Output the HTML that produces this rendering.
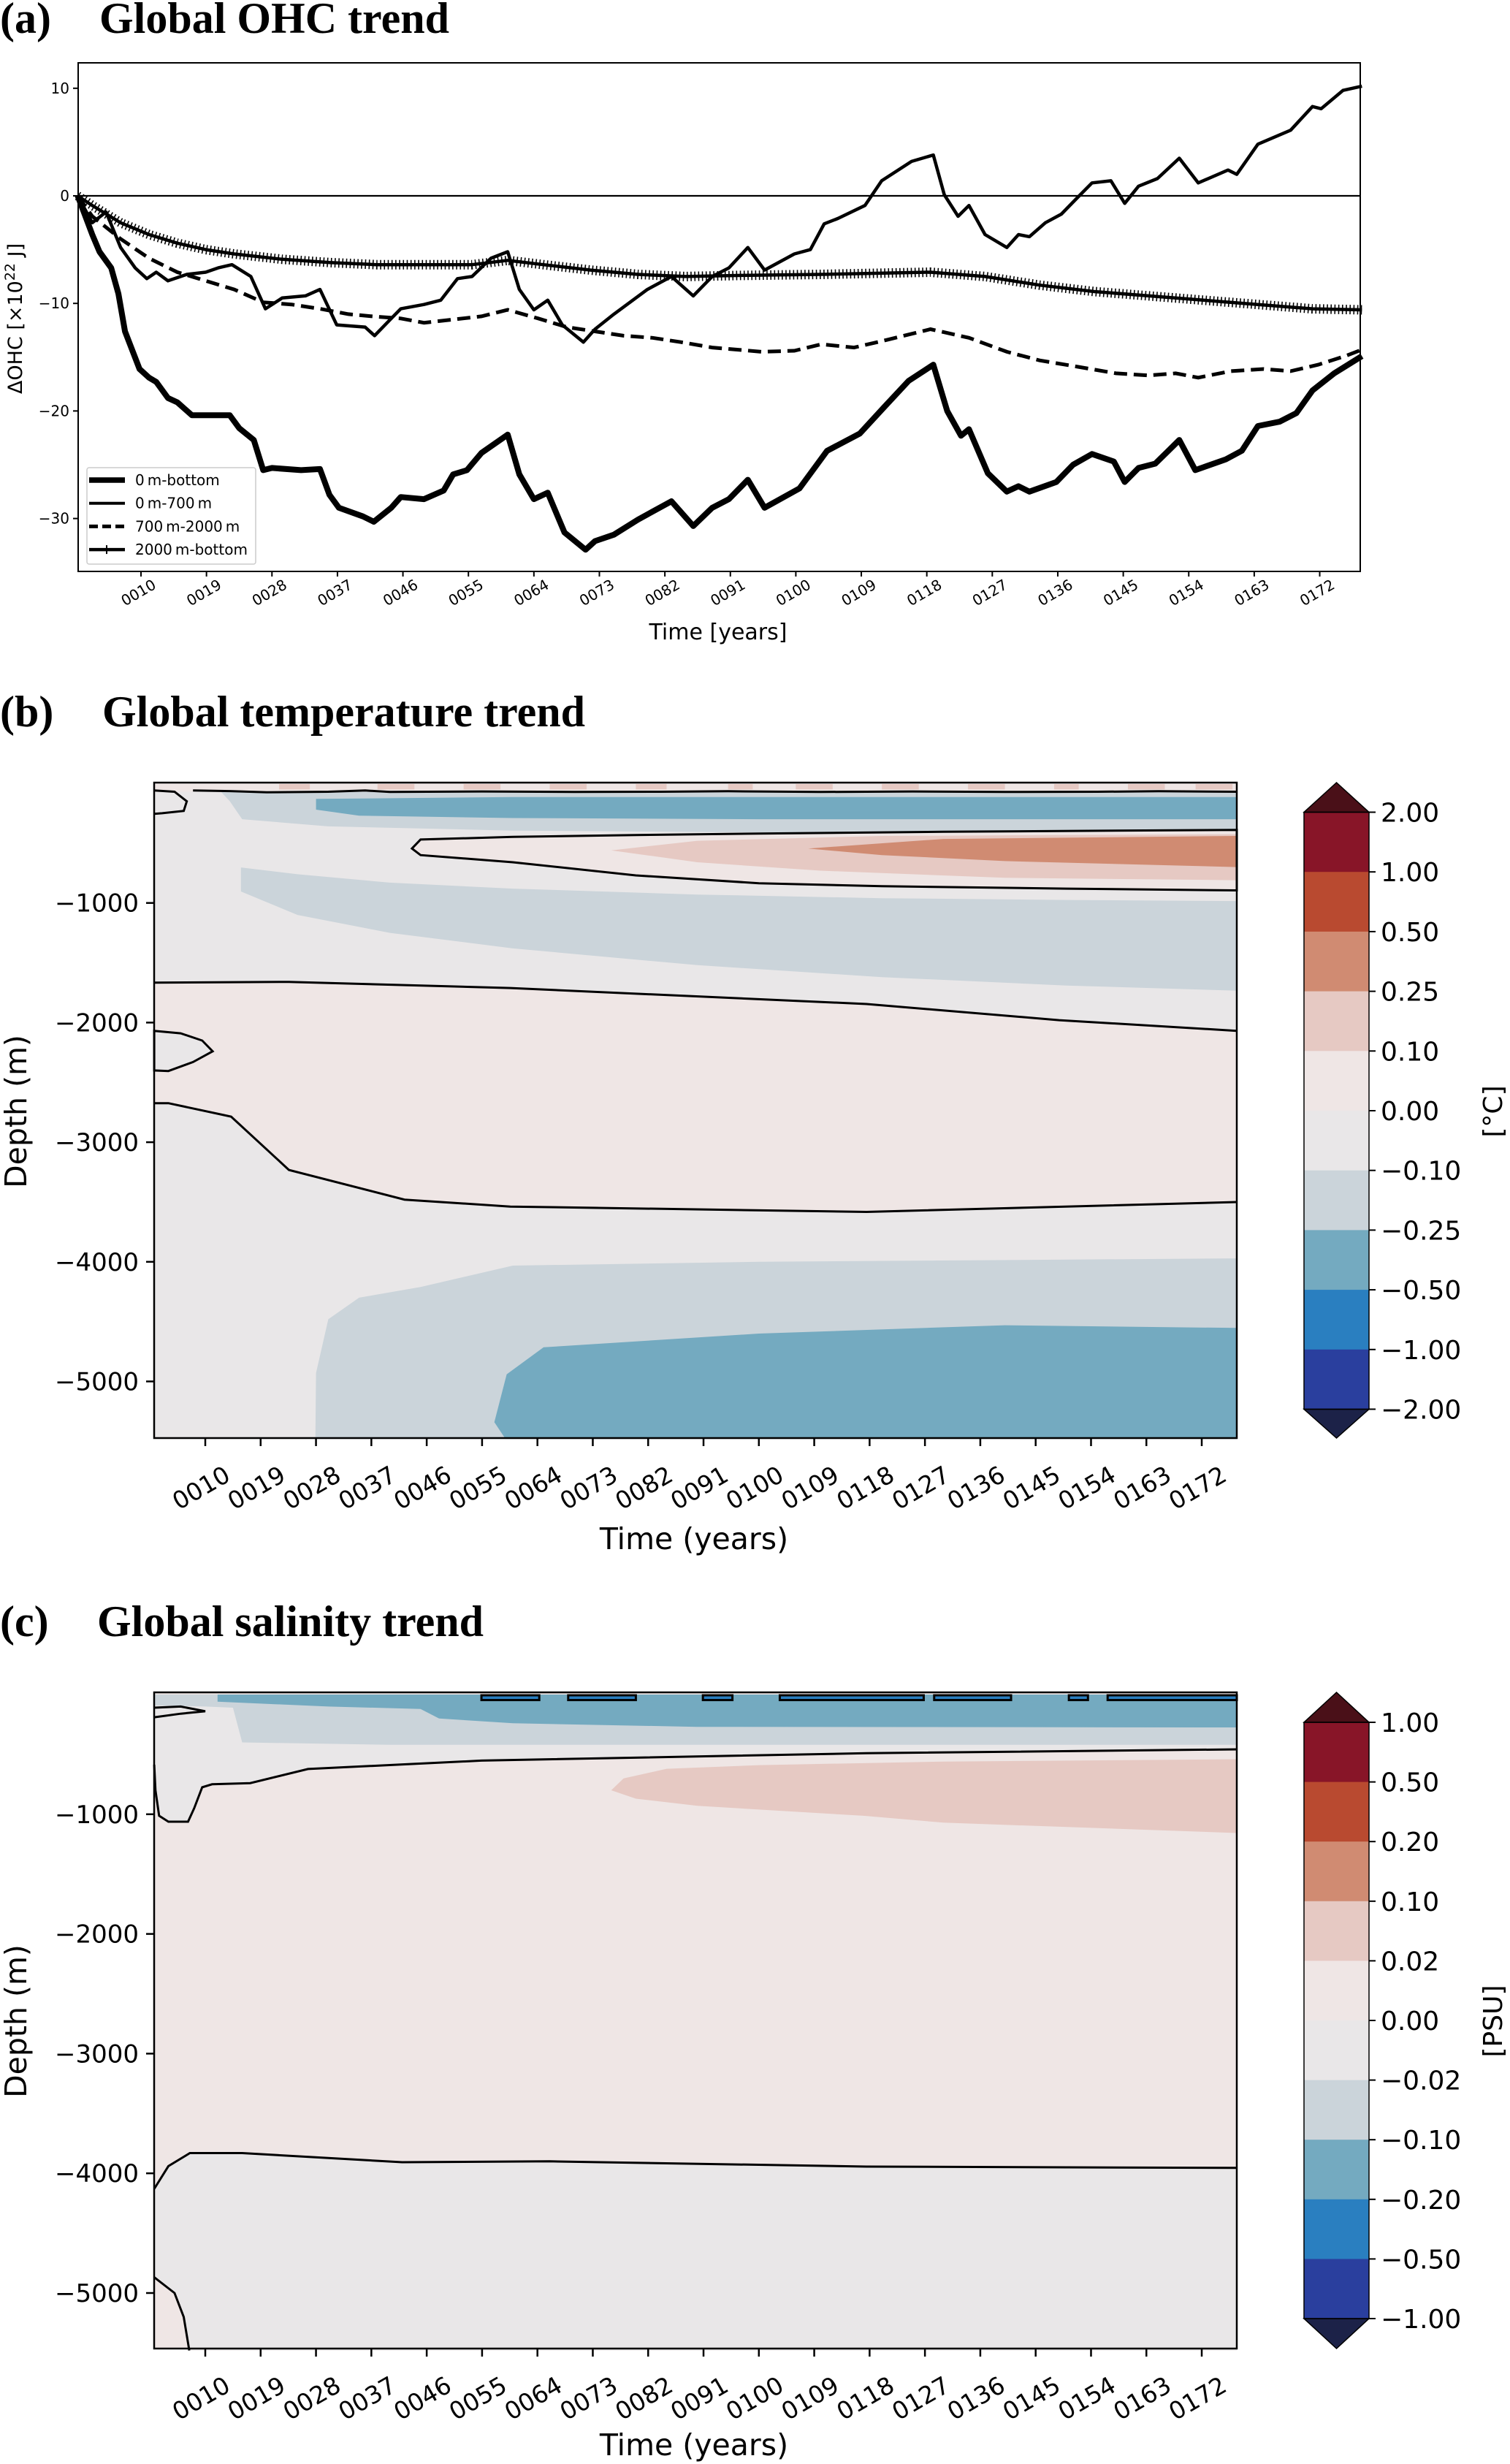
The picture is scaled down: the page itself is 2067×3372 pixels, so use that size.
<!DOCTYPE html>
<html><head><meta charset="utf-8">
<style>
html,body{margin:0;padding:0;background:#fff;}
svg{display:block;}
text{font-family:"DejaVu Sans","Liberation Sans",sans-serif;}
.ttl{font-family:"Liberation Serif",serif;font-weight:bold;font-size:60px;}
</style></head>
<body>
<svg id="fig" width="2067" height="3372" viewBox="0 0 2067 3372" xmlns="http://www.w3.org/2000/svg">
<text class="ttl" x="0" y="45">(a)<tspan x="136">Global OHC trend</tspan></text>
<text class="ttl" x="0" y="994">(b)<tspan x="140">Global temperature trend</tspan></text>
<text class="ttl" x="0" y="2239">(c)<tspan x="133">Global salinity trend</tspan></text>
<g id="pa"></g>
<g id="pb"></g>
<g id="pc"></g>
</svg>
<script>
// ---------- Panel (a) data ----------
const yrsBottom = [1.3,3.3,4.3,5.9,6.9,7.8,9.8,11.1,12.1,13.7,15,17,19.6,22.2,23.5,25.5,26.8,28,32,34.6,35.9,37.2,40.5,42,44.4,45.7,48.9,51.6,52.9,54.8,56.8,60.4,62,64,65.9,68.2,71.1,72.4,75,78.3,82.9,85.9,88.5,90.8,93.4,95.7,100.5,104.3,108.8,112.2,115.5,118.9,120.8,122.7,123.8,126.4,129,130.6,132.1,135.8,138.1,140.7,143.7,145.2,147.1,149.4,151.2,152.7,154.9,159.1,161.3,163.5,166.5,168.8,171,174,177.8];
const valBottom = [0,-3.6,-5.2,-6.7,-9.1,-12.6,-16.1,-16.9,-17.3,-18.8,-19.2,-20.4,-20.4,-20.4,-21.6,-22.7,-25.5,-25.3,-25.5,-25.4,-27.8,-29,-29.8,-30.3,-29,-28,-28.2,-27.4,-25.9,-25.5,-23.9,-22.2,-25.9,-28.2,-27.6,-31.3,-32.9,-32.1,-31.5,-30.1,-28.4,-30.7,-29,-28.2,-26.4,-29,-27.2,-23.7,-22.1,-19.6,-17.2,-15.7,-20,-22.3,-21.7,-25.8,-27.5,-27,-27.5,-26.6,-25,-24,-24.7,-26.6,-25.3,-24.9,-23.7,-22.7,-25.5,-24.5,-23.7,-21.4,-21,-20.2,-18.1,-16.5,-14.9];
const yrs700 = [1.3,3.3,5.2,7.2,9.2,10.8,12.1,13.7,16.3,18.9,20.6,22.5,25.1,27.1,29.4,32.6,34.6,36.9,40.8,42.1,44.4,45.7,48.9,51.2,53.5,55.5,58.1,60.4,62,64,65.9,67.9,70.8,72.4,75,79.6,82.9,85.9,88.5,90.8,93.4,95.7,99.8,102,103.9,105.8,109.5,111.8,115.9,118.9,120.4,122.3,123.8,126,129,130.6,132.1,134.3,136.5,138.8,140.7,143.3,145.2,147.1,149.7,152.7,155.3,159.4,160.6,163.5,168,171,172.2,175.2,177.8];
const val700 = [0,-2.5,-1.5,-4.8,-6.7,-7.7,-7.1,-7.9,-7.3,-7.1,-6.7,-6.4,-7.5,-10.5,-9.5,-9.3,-8.7,-12,-12.2,-13,-11.4,-10.5,-10.1,-9.7,-7.7,-7.5,-5.8,-5.2,-8.7,-10.6,-9.7,-12,-13.6,-12.4,-11,-8.7,-7.5,-9.3,-7.5,-6.7,-4.8,-6.9,-5.4,-5,-2.6,-2.1,-0.9,1.4,3.2,3.8,0.1,-1.9,-0.9,-3.6,-4.8,-3.6,-3.8,-2.5,-1.7,-0.1,1.2,1.4,-0.7,0.9,1.6,3.5,1.2,2.4,2,4.8,6.1,8.3,8.1,9.8,10.2];
const yrs2000 = [1.3,3.3,7.2,11.1,15,18.9,22.8,26.8,30.7,34.6,38.5,41.8,45.7,48.9,52.9,56.8,60.4,64.6,68.5,72.4,76.3,80.3,84.2,88.5,95.3,99.8,103.5,108,112.5,118.5,123.8,129,133.5,138.8,144,148.5,152.2,155.3,159.8,164.3,168,171.8,175.5,177.8];
const val2000 = [0,-1.9,-4,-5.8,-7.1,-7.9,-8.7,-9.9,-10.1,-10.5,-11,-11.2,-11.4,-11.8,-11.5,-11.2,-10.6,-11.4,-12.2,-12.6,-13,-13.2,-13.6,-14.1,-14.5,-14.4,-13.8,-14.1,-13.4,-12.4,-13.2,-14.5,-15.3,-15.9,-16.5,-16.7,-16.5,-16.9,-16.3,-16.1,-16.3,-15.7,-14.9,-14.3];
const yrsDeep = [1.3,3.3,7.2,11.1,15,18.9,22.8,29.4,35.9,42.4,48.9,55.5,60.4,65.3,71.8,78.3,84.8,92.5,103.5,118.5,126,133.5,141,148.5,156,163.5,171,177.8];
const valDeep = [0,-0.9,-2.5,-3.6,-4.4,-5,-5.4,-5.9,-6.2,-6.4,-6.4,-6.4,-6,-6.4,-6.9,-7.3,-7.5,-7.4,-7.3,-7.1,-7.5,-8.3,-8.9,-9.3,-9.7,-10.1,-10.5,-10.6];
const tickYears = [10,19,28,37,46,55,64,73,82,91,100,109,118,127,136,145,154,163,172];
const ohcTicks = [10,0,-10,-20,-30];
const tempLevels = ["2.00","1.00","0.50","0.25","0.10","0.00","\u22120.10","\u22120.25","\u22120.50","\u22121.00","\u22122.00"];
const saltLevels = ["1.00","0.50","0.20","0.10","0.02","0.00","\u22120.02","\u22120.10","\u22120.20","\u22120.50","\u22121.00"];
const depthTicks = [-1000,-2000,-3000,-4000,-5000];
const binColors = ["#881528","#b94a30","#d08b72","#e6c9c3","#efe6e5","#e9e7e8","#cbd4da","#74aac0","#2a7fc0","#2a3f9e"];

const NS="http://www.w3.org/2000/svg";
function mk(parent,tag,attrs){const e=document.createElementNS(NS,tag);for(const k in attrs)e.setAttribute(k,attrs[k]);parent.appendChild(e);return e;}
function txt(parent,s,attrs){const e=mk(parent,'text',attrs);e.textContent=s;return e;}

// ---------- Panel (a) ----------
const pa=document.getElementById('pa');
const aL=107,aR=1862,aT=86,aB=782;
const ax=y=>193+(y-10)*9.96;
const ay=v=>268-v*14.72;
function polyPts(ys,vs,fx,fy){return ys.map((y,i)=>fx(y).toFixed(1)+','+fy(vs[i]).toFixed(1)).join(' ');}
let zl=mk(pa,'line',{x1:aL,x2:aR,y1:ay(0),y2:ay(0),stroke:'#000','stroke-width':2.2});

let l;
l=mk(pa,'polyline',{points:polyPts(yrsDeep,valDeep,ax,ay),fill:'none',stroke:'#000','stroke-width':4.5,'stroke-linejoin':'round'});

l=mk(pa,'polyline',{points:polyPts(yrsDeep,valDeep,ax,ay),fill:'none',stroke:'#000','stroke-width':13,'stroke-dasharray':'1.6 3.6'});

l=mk(pa,'polyline',{points:polyPts(yrs2000,val2000,ax,ay),fill:'none',stroke:'#000','stroke-width':5,'stroke-dasharray':'18 9'});

l=mk(pa,'polyline',{points:polyPts(yrs700,val700,ax,ay),fill:'none',stroke:'#000','stroke-width':4.5,'stroke-linejoin':'round'});

l=mk(pa,'polyline',{points:polyPts(yrsBottom,valBottom,ax,ay),fill:'none',stroke:'#000','stroke-width':8,'stroke-linejoin':'round'});

let fr=mk(pa,'rect',{x:aL,y:aT,width:aR-aL,height:aB-aT,fill:'none',stroke:'#000','stroke-width':2});

ohcTicks.forEach(v=>{
  mk(pa,'line',{x1:aL-7,x2:aL,y1:ay(v),y2:ay(v),stroke:'#000','stroke-width':2});
  const t=txt(pa,v<0?'\u2212'+Math.abs(v):String(v),{x:aL-12,y:ay(v)+7,'font-size':20,'text-anchor':'end'});
  
});
tickYears.forEach(y=>{
  mk(pa,'line',{x1:ax(y),x2:ax(y),y1:aB,y2:aB+7,stroke:'#000','stroke-width':2});
  const t=txt(pa,String(y).padStart(4,'0'),{x:0,y:0,'font-size':20,'text-anchor':'middle',transform:`translate(${ax(y)},${aB+35}) rotate(-30)`});
  
});
let t;
t=txt(pa,'Time [years]',{x:983,y:875,'font-size':30,'text-anchor':'middle'});

t=mk(pa,'text',{x:0,y:0,'font-size':27,'text-anchor':'middle',transform:'translate(30,436) rotate(-90)'});
t.innerHTML='\u0394OHC [\u00d710<tspan dy="-10" font-size="19">22</tspan><tspan dy="10"> J]</tspan>';

// legend
const lg=mk(pa,'g',{});

mk(lg,'rect',{x:119,y:640,width:231,height:132,fill:'#fff',stroke:'#ccc','stroke-width':1.5,rx:3});
const legLabels=['0\u2009m-bottom','0\u2009m-700\u2009m','700\u2009m-2000\u2009m','2000\u2009m-bottom'];
const legW=[7.5,4,5,4.5];
legLabels.forEach((s,i)=>{
  const yy=657+i*31.7;
  const e=mk(lg,'g',{});
  
  const a={x1:122,x2:171,y1:yy,y2:yy,stroke:'#000','stroke-width':legW[i]};
  if(i==2)a['stroke-dasharray']='12 6';
  mk(e,'line',a);
  if(i==3)mk(e,'line',{x1:146,x2:146,y1:yy-6,y2:yy+6,stroke:'#000','stroke-width':2});
  txt(e,s,{x:185,y:yy+7,'font-size':20});
});

// ---------- Contour panels ----------
function P(pts,fx,fy){return 'M'+pts.map(p=>fx(p[0]).toFixed(1)+','+fy(p[1]).toFixed(1)).join(' L')+' Z';}
function L(pts,fx,fy){return 'M'+pts.map(p=>fx(p[0]).toFixed(1)+','+fy(p[1]).toFixed(1)).join(' L');}
const bx=y=>281+(y-10)*8.42;
const Y0=1.7,Y1=177.7,DMAX=5480;

// Temperature regions (year, depth)
const tPinkMid=[[Y0,1666],[23.6,1660],[59.6,1711],[117.5,1845],[148.8,1980],[Y1,2069],[Y1,3500],[117.5,3583],[59.6,3538],[42.4,3480],[23.6,3232],[14.2,2786],[4.0,2674],[Y0,2674]];
const tBlob=[[Y0,2069],[6,2090],[9.5,2150],[11.2,2240],[8,2330],[4,2405],[Y0,2400]];
const tGrayUp=[[15.8,703],[25,760],[40,830],[60,880],[90,930],[120,960],[150,975],[Y1,984],[Y1,1733],[150,1690],[120,1620],[90,1520],[60,1380],[40,1250],[25,1100],[15.8,904]];
const tPinkUp=[[43.6,545],[45,470],[60,448],[80,432],[100,420],[130,405],[Y1,389],[Y1,895],[150,880],[120,860],[100,835],[80,770],[60,660],[45,600]];
const tLred=[[76,560],[90,480],[120,440],[Y1,425],[Y1,810],[140,790],[110,730],[90,660]];
const tOrange=[[108,545],[130,465],[Y1,440],[Y1,700],[140,650],[120,600]];
const tGrayTop=[[12,40],[Y1,40],[Y1,420],[100,410],[60,395],[30,360],[16,300],[14,150]];
const tBlueTop=[[28,130],[60,115],[Y1,115],[Y1,300],[100,300],[60,290],[35,270],[28,220]];
const tSurf=[[Y0,0],[Y1,0],[Y1,70],[Y0,70]];
const tGrayBot=[[27.9,DMAX],[28,4930],[30,4480],[35,4300],[45,4210],[60,4032],[100,4000],[Y1,3971],[Y1,DMAX]];
const tBlueBot=[[58.8,DMAX],[57,5340],[59,4940],[65,4715],[100,4600],[140,4530],[Y1,4553],[Y1,DMAX]];
const tSurfContour=[[8,60],[14,65],[20,75],[30,70],[36,60],[40,72],[55,68],[70,72],[84,70],[95,66],[110,72],[125,68],[140,72],[155,70],[165,66],[Y1,70]];
const tCornerContour=[[Y0,60],[5,70],[7,150],[6.5,230],[3,250],[Y0,255]];
const redPatchYears=[[22,27],[38,44],[52,58],[66,72],[80,85],[95,99],[106,112],[120,126],[134,140],[148,152],[160,166],[171,177]];

function contourPanel(g,top,bot,fy,bg,regions,lines){
  mk(g,'rect',{x:211,y:top,width:1482,height:bot-top,fill:bg});
  regions.forEach(r=>{const p=mk(g,'path',{d:P(r[0],bx,fy),fill:r[1]});});
  lines.forEach(r=>{const p=mk(g,'path',{d:r[1]?P(r[0],bx,fy):L(r[0],bx,fy),fill:'none',stroke:'#000','stroke-width':3});});
}
function axesDeco(g,top,bot,fy,cbTop,cbBot,levels,unit,unitY,depthY,timeY,cbName){
  const f=mk(g,'rect',{x:211,y:top,width:1482,height:bot-top,fill:'none',stroke:'#000','stroke-width':2.5});
  
  depthTicks.forEach(d=>{
    const yy=fy(-d);
    mk(g,'line',{x1:200,x2:211,y1:yy,y2:yy,stroke:'#000','stroke-width':2.5});
    const t=txt(g,'\u2212'+Math.abs(d),{x:190,y:yy+12,'font-size':34,'text-anchor':'end'});
    
  });
  tickYears.forEach(y=>{
    mk(g,'line',{x1:bx(y),x2:bx(y),y1:bot,y2:bot+11,stroke:'#000','stroke-width':2.5});
    const t=txt(g,String(y).padStart(4,'0'),{x:0,y:0,'font-size':33,'text-anchor':'middle',transform:`translate(${bx(y)},${bot+78}) rotate(-30)`});
    
  });
  let t=txt(g,'Time (years)',{x:950,y:timeY,'font-size':41,'text-anchor':'middle'});
  
  t=txt(g,'Depth (m)',{x:0,y:0,'font-size':41,'text-anchor':'middle',transform:`translate(36,${depthY}) rotate(-90)`});
  
  const cb=mk(g,'g',{});
  
  const cx0=1785,cx1=1874,h=(cbBot-cbTop)/10;
  binColors.forEach((c,i)=>mk(cb,'rect',{x:cx0,y:cbTop+i*h,width:cx1-cx0,height:h+0.5,fill:c}));
  mk(cb,'polygon',{points:`${cx0},${cbTop} ${cx1},${cbTop} ${(cx0+cx1)/2},${top}`,fill:'#4a1018',stroke:'#000','stroke-width':1.5});
  mk(cb,'polygon',{points:`${cx0},${cbBot} ${cx1},${cbBot} ${(cx0+cx1)/2},${bot}`,fill:'#1c2248',stroke:'#000','stroke-width':1.5});
  mk(cb,'rect',{x:cx0,y:cbTop,width:cx1-cx0,height:cbBot-cbTop,fill:'none',stroke:'#000','stroke-width':1.5});
  levels.forEach((s,i)=>{
    const yy=cbTop+i*h;
    mk(cb,'line',{x1:cx1,x2:cx1+9,y1:yy,y2:yy,stroke:'#000','stroke-width':2});
    const tt=txt(cb,s,{x:cx1+16,y:yy+13,'font-size':36});
    
  });
  t=txt(g,unit,{x:0,y:0,'font-size':36,'text-anchor':'middle',transform:`translate(2056,${unitY}) rotate(-90)`});
  
}

// Panel b
const pb=document.getElementById('pb');
const bT=1071,bB=1968;
const byf=d=>1072+d*0.1637;
contourPanel(pb,bT,bB,byf,'#e9e7e8',[
  [tPinkMid,'#efe6e5','warm-deep-region'],
  [tBlob,'#e9e7e8','cool-blob'],
  [tGrayUp,'#cbd4da','cool-intermediate-region'],
  [tGrayTop,'#cbd4da','cool-subsurface-band'],
  [tBlueTop,'#74aac0','cold-subsurface-band'],
  [tSurf,'#efe6e5','surface-band'],
  [tPinkUp,'#efe6e5','warm-intermediate-region'],
  [tLred,'#e6c9c3','warm-core'],
  [tOrange,'#d08b72','warm-core-strong'],
  [tGrayBot,'#cbd4da','cool-bottom-region'],
  [tBlueBot,'#74aac0','cold-bottom-region']
],[[tPinkUp,true],[tPinkMid.slice(0,6),false],[tPinkMid.slice(6),false],[tBlob,true],[tSurfContour,false],[tCornerContour,false]]);
redPatchYears.forEach(r=>{
  const p=mk(pb,'rect',{x:bx(r[0]),y:byf(0)+1,width:bx(r[1])-bx(r[0]),height:byf(45)-byf(0),fill:'#e6c9c3'});
  
});
axesDeco(pb,bT,bB,byf,1111.5,1928.5,tempLevels,'[\u00b0C]',1521,1521,2120,'temperature-colorbar');

// Panel c
const sGrayDeep=[[Y0,4130],[4,3940],[7.5,3831],[16,3831],[42,3907],[66,3900],[117.5,3944],[Y1,3955],[Y1,DMAX],[7.4,DMAX],[6.5,5200],[5,5000],[Y0,4868]];
const sLightTop=[[Y0,0],[Y1,0],[Y1,458],[117.5,490],[54.9,552],[26.7,622],[17.3,740],[11.1,750],[9.5,775],[8.2,950],[7.2,1062],[4,1062],[2.5,1013],[1.9,800],[Y0,586]];
const sGrayTop=[[Y0,0],[Y1,0],[Y1,420],[40,420],[16,400],[14.5,110],[10,100],[Y0,90]];
const sBlueTop=[[12,0],[Y1,0],[Y1,275],[90,270],[60,240],[48,200],[45,120],[30,100],[12,60]];
const sLred=[[76,800],[78,700],[85,620],[100,590],[130,560],[Y1,540],[Y1,1157],[130,1070],[117,1013],[90,930],[80,870]];
const sCornerContour=[[Y0,110],[6,100],[10,140],[6,160],[Y0,190]];
const sDarkPatchYears=[[54.9,64.3],[69,80],[90.9,95.7],[103.4,126.8],[128.5,141],[150.4,153.5],[156.7,177.7]];
const pc=document.getElementById('pc');
const cT=2316,cB=3214;
const cyf=d=>2319+d*0.1638;
contourPanel(pc,cT,cB,cyf,'#efe6e5',[
  [sGrayDeep,'#e9e7e8','fresh-deep-region'],
  [sLightTop,'#e9e7e8','fresh-upper-region'],
  [sGrayTop,'#cbd4da','fresh-subsurface-band'],
  [sBlueTop,'#74aac0','fresh-surface-band'],
  [sLred,'#e6c9c3','salty-intermediate-core']
],[[sLightTop.slice(2),false],[sGrayDeep.slice(0,8),false],[sGrayDeep.slice(9),false],[sCornerContour,false]]);
sDarkPatchYears.forEach(r=>{
  const p=mk(pc,'rect',{x:bx(r[0]),y:cyf(0)+1,width:bx(r[1])-bx(r[0]),height:cyf(40)-cyf(0),fill:'#2a7fc0',stroke:'#000','stroke-width':3});
  
});
axesDeco(pc,cT,cB,cyf,2357,3173,saltLevels,'[PSU]',2766,2766,3360,'salinity-colorbar');
</script>
</body></html>
